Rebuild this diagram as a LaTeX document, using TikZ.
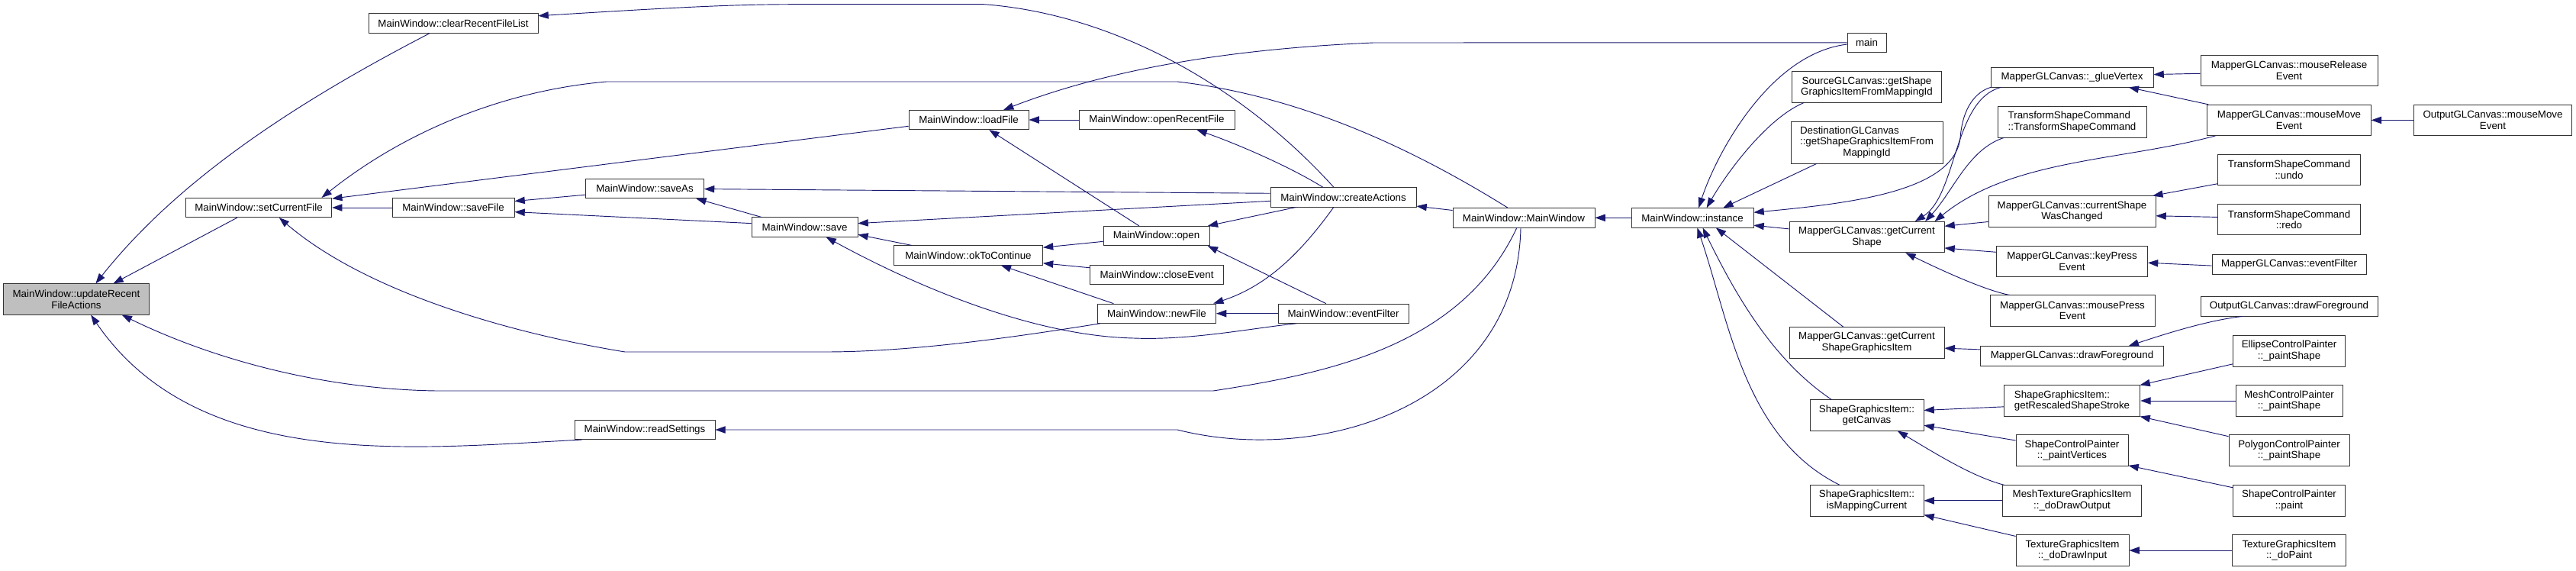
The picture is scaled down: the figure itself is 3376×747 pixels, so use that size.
\documentclass[tikz,border=0pt]{standalone}
\usepackage{fontspec}
\setmainfont{Liberation Sans}
\usepackage{tikz}
\usetikzlibrary{arrows.meta}
\definecolor{edgeblue}{HTML}{191970}
\definecolor{hlgray}{HTML}{BFBFBF}

\begin{document}
\begin{tikzpicture}[
            x=.75pt, y=-.75pt,
            fn/.style={draw=black!80, fill=white, line width=.6pt, align=center,
                font=\fontsize{10}{11}\selectfont, inner xsep=2pt, inner ysep=0pt,
                minimum height=19pt},
            fn2/.style={fn, minimum height=30.2pt},
            fn3/.style={fn, minimum height=41.3pt},
            boxw/.style={minimum width=#1*.75pt},
            call/.style={draw=edgeblue, line width=.7pt, {Triangle[length=10pt, width=7pt]}-},
        ]
            \useasboundingbox (0,0) rectangle (3376,747);

            %% MainWindow side
            \node[fn2, boxw=191, fill=hlgray] (upd) at (100,392) {MainWindow::updateRecent\\FileActions};
            \node[fn, boxw=222] (clearList) at (594,30.5) {MainWindow::clearRecentFileList};
            \node[fn, boxw=191.5] (setCur) at (339,272) {MainWindow::setCurrentFile};
            \node[fn, boxw=160] (saveFile) at (594,272) {MainWindow::saveFile};
            \node[fn, boxw=155] (saveAs) at (845,247) {MainWindow::saveAs};
            \node[fn, boxw=139] (save) at (1054.5,297.5) {MainWindow::save};
            \node[fn, boxw=157] (loadFile) at (1269.5,157) {MainWindow::loadFile};
            \node[fn, boxw=195] (okToCont) at (1269,334.5) {MainWindow::okToContinue};
            \node[fn, boxw=184] (readSet) at (845,563) {MainWindow::readSettings};
            \node[fn, boxw=204] (openRecent) at (1516,157) {MainWindow::openRecentFile};
            \node[fn, boxw=139] (open) at (1515.5,309) {MainWindow::open};
            \node[fn, boxw=175] (closeEv) at (1516,360) {MainWindow::closeEvent};
            \node[fn, boxw=155] (newFile) at (1516,410.7) {MainWindow::newFile};
            \node[fn, boxw=171] (evFilter) at (1760.5,410.7) {MainWindow::eventFilter};
            \node[fn, boxw=191] (createAct) at (1760.5,258.3) {MainWindow::createActions};
            \node[fn, boxw=186] (mwCtor) at (1997,285.3) {MainWindow::MainWindow};
            \node[fn, boxw=160] (instance) at (2218,285.3) {MainWindow::instance};

            %% callers of instance
            \node[fn, boxw=51] (main) at (2446.5,55.8) {main};
            \node[fn2, boxw=196] (srcGL) at (2446.5,114) {SourceGLCanvas::getShape\\GraphicsItemFromMappingId};
            \node[fn3, boxw=199] (dstGL) at (2446.5,186.5) {\rlap{DestinationGLCanvas}\phantom{::getShapeGraphicsItemFrom}\\::getShapeGraphicsItemFrom\\MappingId};
            \node[fn2, boxw=203] (curShape) at (2446.5,310.6) {MapperGLCanvas::getCurrent\\Shape};
            \node[fn2, boxw=203] (curSGI) at (2446.5,449) {MapperGLCanvas::getCurrent\\ShapeGraphicsItem};
            \node[fn2, boxw=149] (getCanvas) at (2446.5,544) {ShapeGraphicsItem::\\getCanvas};
            \node[fn2, boxw=149] (isMapCur) at (2446.5,655.8) {ShapeGraphicsItem::\\isMappingCurrent};

            \node[fn, boxw=213] (glueVtx) at (2715.5,101.3) {MapperGLCanvas::\_glueVertex};
            \node[fn2, boxw=195] (tscCtor) at (2715.5,159.8) {\rlap{TransformShapeCommand}\phantom{::TransformShapeCommand}\\::TransformShapeCommand};
            \node[fn2, boxw=219] (shapeChg) at (2715.5,277) {MapperGLCanvas::currentShape\\WasChanged};
            \node[fn2, boxw=198] (keyPress) at (2715.5,342.5) {MapperGLCanvas::keyPress\\Event};
            \node[fn2, boxw=216] (mousePress) at (2716,407) {MapperGLCanvas::mousePress\\Event};
            \node[fn, boxw=240.5] (mDrawFg) at (2715.5,466.3) {MapperGLCanvas::drawForeground};
            \node[fn2, boxw=178.6] (rescaled) at (2715.5,525) {\rlap{ShapeGraphicsItem::}\phantom{getRescaledShapeStroke}\\getRescaledShapeStroke};
            \node[fn2, boxw=147] (paintVtx) at (2715.5,590) {ShapeControlPainter\\::\_paintVertices};
            \node[fn2, boxw=182] (drawOut) at (2715.5,655.8) {MeshTextureGraphicsItem\\::\_doDrawOutput};
            \node[fn2, boxw=148] (drawIn) at (2716,721) {TextureGraphicsItem\\::\_doDrawInput};

            \node[fn2, boxw=232] (mRelease) at (3000,92.2) {MapperGLCanvas::mouseRelease\\Event};
            \node[fn2, boxw=214.5] (mMove) at (3000,157.4) {MapperGLCanvas::mouseMove\\Event};
            \node[fn2, boxw=207] (oMove) at (3267,157.4) {OutputGLCanvas::mouseMove\\Event};
            \node[fn2, boxw=187] (undo) at (3000,222.5) {TransformShapeCommand\\::undo};
            \node[fn2, boxw=187] (redo) at (3000,287.7) {TransformShapeCommand\\::redo};
            \node[fn, boxw=202] (mEvFilter) at (3000,346.3) {MapperGLCanvas::eventFilter};
            \node[fn, boxw=232] (oDrawFg) at (3000,401.4) {OutputGLCanvas::drawForeground};
            \node[fn2, boxw=147] (ellipseCP) at (3000,459.8) {EllipseControlPainter\\::\_paintShape};
            \node[fn2, boxw=140] (meshCP) at (3000,525) {MeshControlPainter\\::\_paintShape};
            \node[fn2, boxw=158] (polyCP) at (3000,590) {PolygonControlPainter\\::\_paintShape};
            \node[fn2, boxw=147] (scpPaint) at (3000,655.8) {ShapeControlPainter\\::paint};
            \node[fn2, boxw=149] (doPaint) at (3000,721) {TextureGraphicsItem\\::\_doPaint};

            %% calls into the MainWindow functions
            \draw[call] (upd.39) .. controls (238.7,228.5) and (402.9,126.6) .. (clearList.203);
            \draw[call] (upd.23) -- (setCur.205);
            \draw[call] (upd.313) .. controls (261,620) and (545,587) .. (readSet.189);
            \draw[call] (upd.341) .. controls (286,474) and (430,510) .. (572,512) -- (1590,512)
                .. controls (1740,489) and (1915,454) .. (mwCtor.235);
            \draw[call] (setCur.9) .. controls (528,174) and (657,119) .. (795,107) -- (1543,107)
                .. controls (1699,125) and (1844,190) .. (mwCtor.148);
            \draw[call] (setCur.7) -- (loadFile.186);
            \draw[call] (setCur) -- (saveFile);
            \draw[call] (setCur.334) .. controls (479,382) and (666,436) .. (819,461) -- (1081,461)
                .. controls (1200,461) and (1340,440) .. (newFile.190);
            \draw[call] (saveFile.6) -- (saveAs.186);
            \draw[call] (saveFile.356) -- (save.176);
            \draw[call] (saveAs) -- (createAct.177);
            \draw[call] (saveAs.349) -- (save.167);
            \draw[call] (save.4) -- (createAct.183);
            \draw[call] (save.352) -- (okToCont.170);
            \draw[call] (save.335) .. controls (1195,372) and (1350,440) .. (1486,443)
                .. controls (1560,446) and (1640,430) .. (evFilter.192);
            \draw[call] (loadFile.16) .. controls (1468,85) and (1637,63) .. (1800,56) -- (main.west);
            \draw[call] (loadFile) -- (openRecent);
            \draw[call] (loadFile.334) -- (open.150);
            \draw[call] (openRecent.346) .. controls (1620,188) and (1690,218) .. (createAct.154);
            \draw[call] (open.11) -- (createAct.192);
            \draw[call] (open.349) -- (evFilter.150);
            \draw[call] (okToCont.6) -- (open.186);
            \draw[call] (okToCont.354) -- (closeEv.174);
            \draw[call] (okToCont.343) -- (newFile.167);
            \draw[call] (newFile.10) .. controls (1664,373.5) and (1708.5,326) .. (createAct.226);
            \draw[call] (newFile) -- (evFilter);
            \draw[call] (createAct.353) -- (mwCtor.174);
            \draw[call] (clearList.5) .. controls (880,10) and (960,5.7) .. (1040,5.7) -- (1290,5.7)
                .. controls (1463,19) and (1630,115) .. (createAct.134);
            \draw[call] (mwCtor) -- (instance);
            \draw[call] (readSet) -- (1543,563) .. controls (1729,610) and (1988,532) .. (mwCtor.253);

            %% calls into instance and the canvas functions
            \draw[call] (instance.58) .. controls (2250,200) and (2320,70) .. (main.185);
            \draw[call] (instance.35) .. controls (2262,228) and (2315,155) .. (srcGL.194);
            \draw[call] (instance.18) -- (dstGL.203);
            \draw[call] (instance.5) .. controls (2430,266) and (2560,250) .. (2569,181)
                .. controls (2572,140) and (2590,120) .. (glueVtx.187);
            \draw[call] (instance.353) -- (curShape.174);
            \draw[call] (instance.337) -- (curSGI.146);
            \draw[call] (instance.316) .. controls (2273,383) and (2322,471) .. (getCanvas.156);
            \draw[call] (instance.296) .. controls (2266,419) and (2285,573) .. (isMapCur.150);
            \draw[call] (curShape.18) .. controls (2565,255) and (2560,130) .. (glueVtx.188);
            \draw[call] (curShape.15) .. controls (2560,250) and (2580,195) .. (tscCtor.193);
            \draw[call] (curShape.13) .. controls (2636,208) and (2780,211) .. (mMove.192);
            \draw[call] (curShape.8) -- (shapeChg.187);
            \draw[call] (curShape.352) -- (keyPress.173);
            \draw[call] (curShape.338) .. controls (2540,352) and (2600,380) .. (mousePress.166);
            \draw[call] (curSGI.356) -- (mDrawFg.176);
            \draw[call] (getCanvas.5) -- (rescaled.185);
            \draw[call] (getCanvas.350) -- (paintVtx.170);
            \draw[call] (getCanvas.333) .. controls (2530,590) and (2585,625) .. (drawOut.167);
            \draw[call] (isMapCur) -- (drawOut);
            \draw[call] (isMapCur.346) -- (drawIn.166);
            \draw[call] (glueVtx.2) -- (mRelease.182);
            \draw[call] (glueVtx.350) -- (mMove.169);
            \draw[call] (shapeChg.11) -- (undo.191);
            \draw[call] (shapeChg.357) -- (redo.178);
            \draw[call] (keyPress.359) -- (mEvFilter.181);
            \draw[call] (mDrawFg.10) .. controls (2830,440) and (2890,420) .. (oDrawFg.192);
            \draw[call] (rescaled.13) -- (ellipseCP.193);
            \draw[call] (rescaled) -- (meshCP);
            \draw[call] (rescaled.347) -- (polyCP.167);
            \draw[call] (paintVtx.345) -- (scpPaint.167);
            \draw[call] (drawIn) -- (doPaint);
            \draw[call] (mMove) -- (oMove);
        \end{tikzpicture}
\end{document}
